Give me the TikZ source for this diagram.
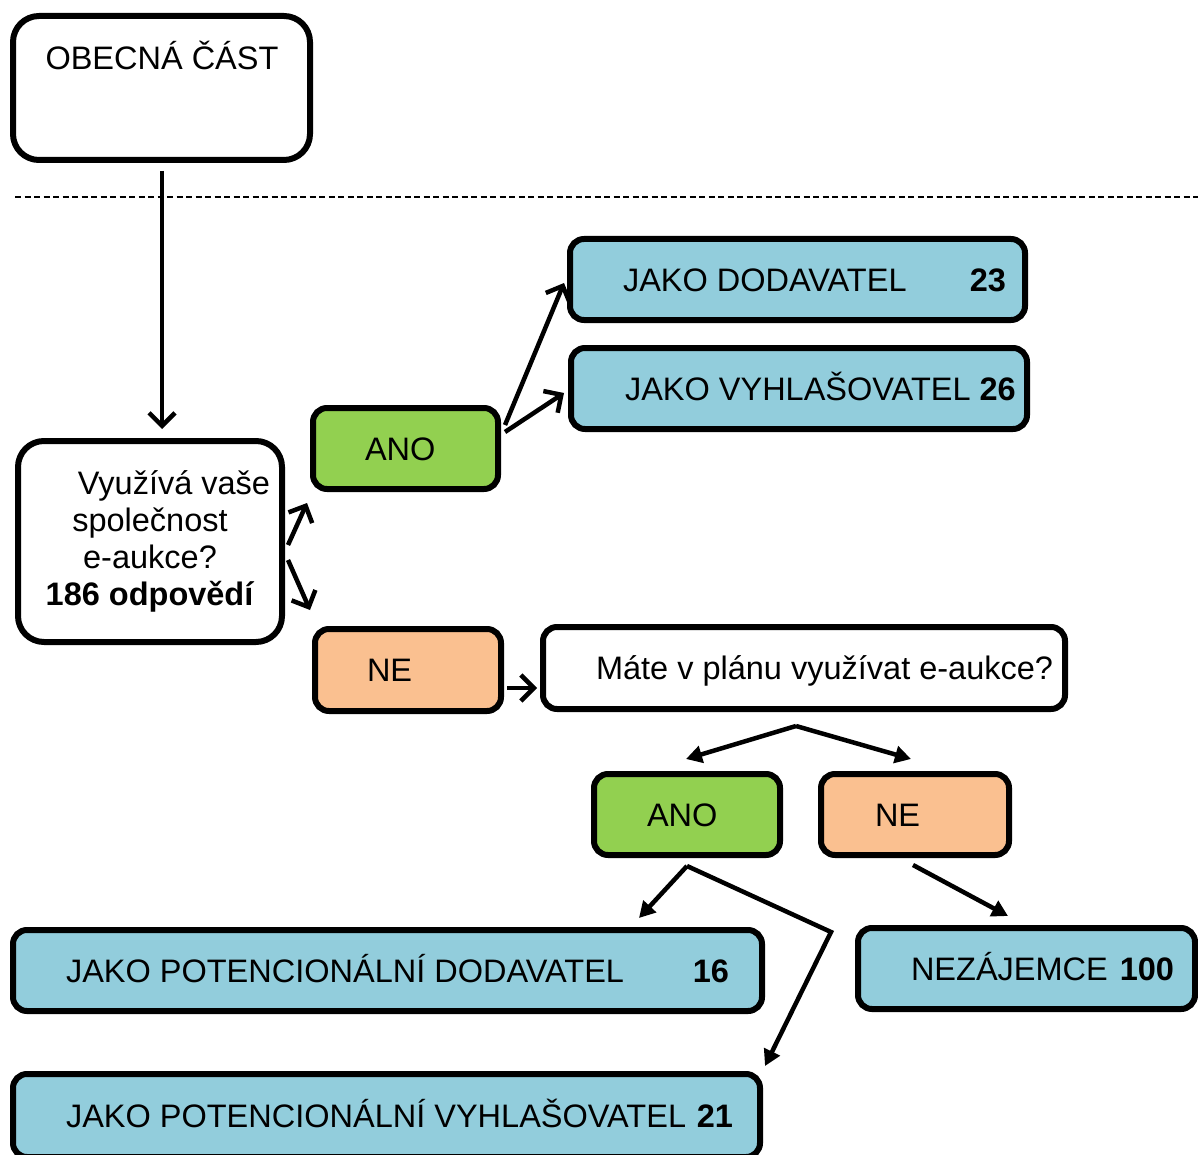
\documentclass[tikz,border=0pt]{standalone}
\usepackage{fontspec}
\setmainfont{Liberation Sans}
\usetikzlibrary{arrows.meta,calc}
\definecolor{boxgreen}{HTML}{92D050}
\definecolor{boxorange}{HTML}{FAC090}
\definecolor{boxblue}{HTML}{92CDDC}
\newcommand\bxtext[4]{\makebox[#1][l]{\hspace*{53pt}#2\hfill\textbf{#3}\hspace*{#4}}}
\newcommand\bxleft[3]{\makebox[#1][l]{\hspace*{#2}#3}}
\begin{document}
\begin{tikzpicture}[x=1pt,y=-1pt,
  basebox/.style={draw=black, line width=6pt, inner sep=0pt, font=\fontsize{32.5}{37}\selectfont},
  box/.style={basebox, rounded corners=14pt, text height=23pt, text depth=0pt},
  bigbox/.style={basebox, rounded corners=26pt, fill=white},
  conn/.style={line width=4.5pt, -{Straight Barb[length=13pt,width=26pt]}},
  tconn/.style={line width=4.5pt, -{Triangle[length=16pt,width=17pt]}},
  lbl/.style={inner sep=0pt, font=\fontsize{32.5}{37}\selectfont},
  sep/.style={line width=2pt, dash pattern=on 6pt off 3.5pt},
]
\useasboundingbox (0,0) rectangle (1198,1155);

% separator
\coordinate (sepL) at (15,197);
\coordinate (sepR) at (1198,197);
\draw[sep] (sepL) -- (sepR);

% boxes
\node[bigbox, minimum width=297pt, minimum height=144pt] (ob) at (161.5,88) {};
\node[lbl, anchor=base] (obt) at (162,70) {OBECNÁ ČÁST};

\node[bigbox, minimum width=264pt, minimum height=201pt, align=center] (q) at (150,541.5)
  {\hspace*{48pt}Využívá vaše\\ společnost\\ e-aukce?\\ \textbf{186 odpovědí}};

\node[box, fill=boxgreen, minimum width=185pt, minimum height=81pt] (ano1) at (405.5,448.5) {\bxleft{185pt}{52pt}{ANO}};
\node[box, fill=boxorange, minimum width=186pt, minimum height=82pt] (ne1) at (408,670) {\bxleft{186pt}{52pt}{NE}};

\node[box, fill=boxblue, minimum width=455pt, minimum height=81pt] (jd) at (797.5,279.5) {\bxtext{455pt}{JAKO DODAVATEL}{23}{19pt}};
\node[box, fill=boxblue, minimum width=456pt, minimum height=81pt] (jv) at (799,388.5) {\bxleft{456pt}{54pt}{JAKO VYHLAŠOVATEL \textbf{26}}};

\node[box, fill=white, minimum width=522pt, minimum height=82pt] (mate) at (804,668) {\bxleft{522pt}{53pt}{Máte v plánu využívat e-aukce?}};

\node[box, fill=boxgreen, minimum width=186pt, minimum height=81pt] (ano2) at (687,814.5) {\bxleft{186pt}{53pt}{ANO}};
\node[box, fill=boxorange, minimum width=188pt, minimum height=81pt] (ne2) at (915,814.5) {\bxleft{188pt}{54pt}{NE}};

\node[box, fill=boxblue, minimum width=749pt, minimum height=81pt] (jpd) at (387.5,970.5) {\bxtext{749pt}{JAKO POTENCIONÁLNÍ DODAVATEL}{16}{33pt}};
\node[box, fill=boxblue, minimum width=337pt, minimum height=81pt] (nez) at (1026.5,968.5) {\bxtext{337pt}{NEZÁJEMCE}{100}{21pt}};
\node[box, fill=boxblue, minimum width=747pt, minimum height=83pt] (jpv) at (386.5,1115.5) {\bxtext{747pt}{JAKO POTENCIONÁLNÍ VYHLAŠOVATEL}{21}{27pt}};

% connectors (upper part, open heads)
\draw[conn] ($(ob.south)+(0.5,8)$) -- ($(q.north)+(12,-9)$);
\draw[conn] ($(q.east)+(3,3.5)$) -- ($(ano1.south west)+(-3,11)$);
\draw[conn] ($(q.east)+(3,18.5)$) -- ($(ne1.north west)+(-2,-16)$);
\draw[conn] ($(ano1.east)+(4,-23.5)$) -- ($(jd.west)+(-3,3.5)$);
\draw[conn] ($(ano1.east)+(4,-16.5)$) -- ($(jv.west)+(-4,4.5)$);
\draw[conn] ($(ne1.east)+(3,18)$) -- ($(mate.west)+(-3,20)$);

% connectors (lower part, triangle heads)
\coordinate (split) at ($(mate.south)+(-8,14)$);
\draw[tconn] (split) -- ($(ano2.north)+(-1,-12)$);
\draw[tconn] (split) -- ($(ne2.north)+(-4,-12)$);
\coordinate (anoout) at ($(ano2.south)+(0,8)$);
\coordinate (bend) at (831,932);
\draw[tconn] (anoout) -- ($(jpd.north east)+(-126,-9)$);
\draw[tconn] (anoout) -- (bend) -- ($(jpv.north east)+(2,-5)$);
\draw[tconn] ($(ne2.south)+(-2,7)$) -- ($(nez.north)+(-18.5,-9)$);
\end{tikzpicture}
\end{document}
